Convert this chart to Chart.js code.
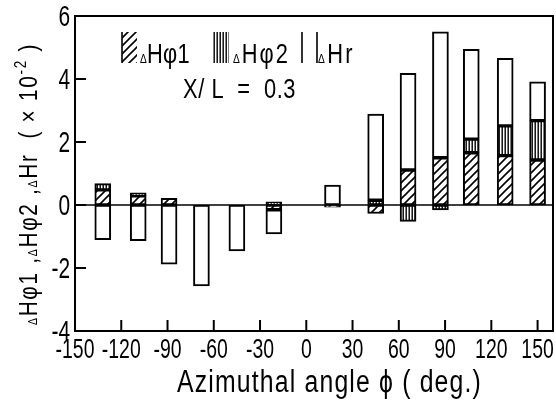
<!DOCTYPE html>
<html lang="en">
<head>
<meta charset="UTF-8">
<title>ΔHφ1, ΔHφ2, ΔHr vs azimuthal angle</title>
<script src="https://cdn.jsdelivr.net/npm/chart.js@4"></script>
<style>
  html, body { margin: 0; padding: 0; background: #fff; }
  #wrap { width: 556px; height: 401px; }
</style>
</head>
<body>
<div id="wrap"><canvas id="chart"></canvas></div>
<script>
// bar positions (deg.) and the three components (x 10^-2)
const angles = [-132, -109, -89, -68, -45, -21, 17, 45, 66, 87, 107, 129, 150];
const dHphi1 = [0.48, 0.29, 0.21, null, null, -0.15, -0.07, -0.27, 1.11, 1.50, 1.66, 1.57, 1.43];
const dHphi2 = [0.20, 0.10, null, null, null, 0.10, null, 0.15, -0.52, -0.16, 0.43, 0.94, 1.25];
const dHr    = [-1.10, -1.13, -1.88, -2.57, -1.46, -0.77, 0.63, 2.74, 3.07, 4.00, 2.85, 2.15, 1.23];
const xTicks = [-150, -120, -90, -60, -30, 0, 30, 60, 90, 120, 150];
const yTicks = [-4, -2, 0, 2, 4, 6];

const FONT = "'Liberation Sans', Arial, sans-serif";

// hatch fills
function hatch(kind) {
  const s = kind === 'diag' ? 8 : 3;
  const c = document.createElement('canvas');
  c.width = s; c.height = s;
  const g = c.getContext('2d');
  g.fillStyle = '#fff';
  g.fillRect(0, 0, s, s);
  g.strokeStyle = '#000';
  g.fillStyle = '#000';
  if (kind === 'diag') {
    g.lineWidth = 1.6;
    g.beginPath();
    g.moveTo(-2, s + 2); g.lineTo(s + 2, -2);
    g.moveTo(-2, 2); g.lineTo(2, -2);
    g.moveTo(s - 2, s + 2); g.lineTo(s + 2, s - 2);
    g.stroke();
  } else {
    g.fillRect(0.5, 0, 1.4, s);
  }
  return g.createPattern(c, 'repeat');
}
const diagFill = hatch('diag');
const vertFill = hatch('vert');

const pts = arr => angles.map((a, i) => ({ x: a, y: arr[i] }));
const barStyle = { borderColor: '#000', borderWidth: 2, borderSkipped: false, barThickness: 16 };

// text pieces [text, size, rise], squeezed by sx and spread to a target width
function pieces(ctx, list, x, base, target, sx) {
  sx = sx || 1;
  ctx.letterSpacing = '0px';
  let nat = 0, n = 0;
  list.forEach(p => {
    ctx.font = p[1] + 'px ' + FONT;
    nat += ctx.measureText(p[0]).width;
    n += [...p[0]].length;
  });
  const ls = target ? Math.max(0, (target / sx - nat) / n) : 0;
  ctx.save();
  ctx.translate(x, base);
  ctx.scale(sx, 1);
  let cx = 0;
  list.forEach(p => {
    ctx.font = p[1] + 'px ' + FONT;
    ctx.letterSpacing = '0px';
    const w = ctx.measureText(p[0]).width;
    ctx.letterSpacing = ls + 'px';
    ctx.fillText(p[0], cx, -(p[2] || 0));
    cx += w + ls * [...p[0]].length;
  });
  ctx.letterSpacing = '0px';
  ctx.restore();
  return cx * sx;
}

function label(ctx, text, x, base, size, sx, align) {
  ctx.save();
  ctx.font = size + 'px ' + FONT;
  ctx.textAlign = align;
  ctx.translate(x, base);
  ctx.scale(sx, 1);
  ctx.fillText(text, 0, 0);
  ctx.restore();
}

function seg(ctx, x1, y1, x2, y2) {
  ctx.beginPath(); ctx.moveTo(x1, y1); ctx.lineTo(x2, y2); ctx.stroke();
}

const decor = {
  id: 'decor',
  afterDatasetsDraw(chart) {
    const { ctx, chartArea: a, scales: { x, y } } = chart;
    ctx.save();
    ctx.strokeStyle = '#000';
    ctx.fillStyle = '#000';
    ctx.textBaseline = 'alphabetic';

    // frame, zero line, inward ticks
    ctx.lineWidth = 2;
    ctx.strokeRect(a.left, a.top, a.right - a.left, a.bottom - a.top);
    ctx.lineWidth = 1.5;
    const y0 = y.getPixelForValue(0);
    seg(ctx, a.left, y0, a.right, y0);
    ctx.lineWidth = 2;
    xTicks.forEach(v => { const px = x.getPixelForValue(v); seg(ctx, px, a.bottom, px, a.bottom - 11); });
    yTicks.forEach(v => { const py = y.getPixelForValue(v); seg(ctx, a.left, py, a.left + 11, py); });

    // tick labels, tall and narrow like the original lettering
    xTicks.forEach(v => label(ctx, String(v), x.getPixelForValue(v), a.bottom + 27, 27, 0.72, 'center'));
    yTicks.forEach(v => label(ctx, String(v), a.left - 5, y.getPixelForValue(v) + 10, 29, 0.72, 'right'));

    // legend
    const L = a.left, T = a.top;
    ctx.lineWidth = 1.6;
    ctx.fillStyle = diagFill;
    ctx.fillRect(L + 47, T + 16, 15, 31);
    seg(ctx, L + 47, T + 16, L + 47, T + 47);
    ctx.fillStyle = vertFill;
    ctx.fillRect(L + 138, T + 16, 16, 31);
    seg(ctx, L + 227, T + 16, L + 227, T + 47);
    seg(ctx, L + 242, T + 16, L + 242, T + 47);
    ctx.fillStyle = '#000';
    pieces(ctx, [['Δ', 13], ['Hφ1', 28]], L + 65, T + 47, 50, 0.78);
    pieces(ctx, [['Δ', 13], ['Hφ2', 28]], L + 158, T + 47, 57, 0.78);
    pieces(ctx, [['Δ', 13], ['Hr', 28]], L + 243, T + 47, 37, 0.78);
    pieces(ctx, [['X/ L  =  0.3', 28]], 183, 98, 113, 0.78);

    // x title
    pieces(ctx, [['Azimuthal angle ', 31], ['ϕ', 31], [' ( deg.)', 31]], 177, 392, 305, 0.8);

    // y title, reading upwards
    ctx.translate(37, 325);
    ctx.rotate(-Math.PI / 2);
    pieces(ctx, [
      ['Δ', 13], ['Hφ1 ,', 26], ['Δ', 13], ['Hφ2 ,', 26], ['Δ', 13],
      ['Hr  ( × 10', 26], ['-2', 17, 11], [' )', 26]
    ], 0, 0, 282, 0.8);
    ctx.restore();
  }
};

new Chart(document.getElementById('chart'), {
  type: 'bar',
  data: {
    datasets: [
      { label: 'ΔHφ1', data: pts(dHphi1), backgroundColor: diagFill, ...barStyle },
      { label: 'ΔHφ2', data: pts(dHphi2), backgroundColor: vertFill, ...barStyle },
      { label: 'ΔHr', data: pts(dHr), backgroundColor: '#fff', ...barStyle }
    ]
  },
  options: {
    responsive: true,
    maintainAspectRatio: false,
    animation: false,
    layout: { padding: { top: 16, right: 3, left: 0, bottom: 0 } },
    plugins: { legend: { display: false }, tooltip: { enabled: false } },
    scales: {
      x: {
        type: 'linear',
        stacked: true,
        offset: false,
        min: -150,
        max: 160,
        grid: { display: false, offset: false, drawTicks: false },
        border: { display: false },
        afterBuildTicks: s => { s.ticks = xTicks.map(v => ({ value: v })); },
        afterFit: s => { s.height = 70; },
        ticks: { display: false }
      },
      y: {
        stacked: true,
        min: -4,
        max: 6,
        grid: { display: false, drawTicks: false },
        border: { display: false },
        afterBuildTicks: s => { s.ticks = yTicks.map(v => ({ value: v })); },
        afterFit: s => { s.width = 75; },
        ticks: { display: false }
      }
    }
  },
  plugins: [decor]
});
</script>
</body>
</html>
